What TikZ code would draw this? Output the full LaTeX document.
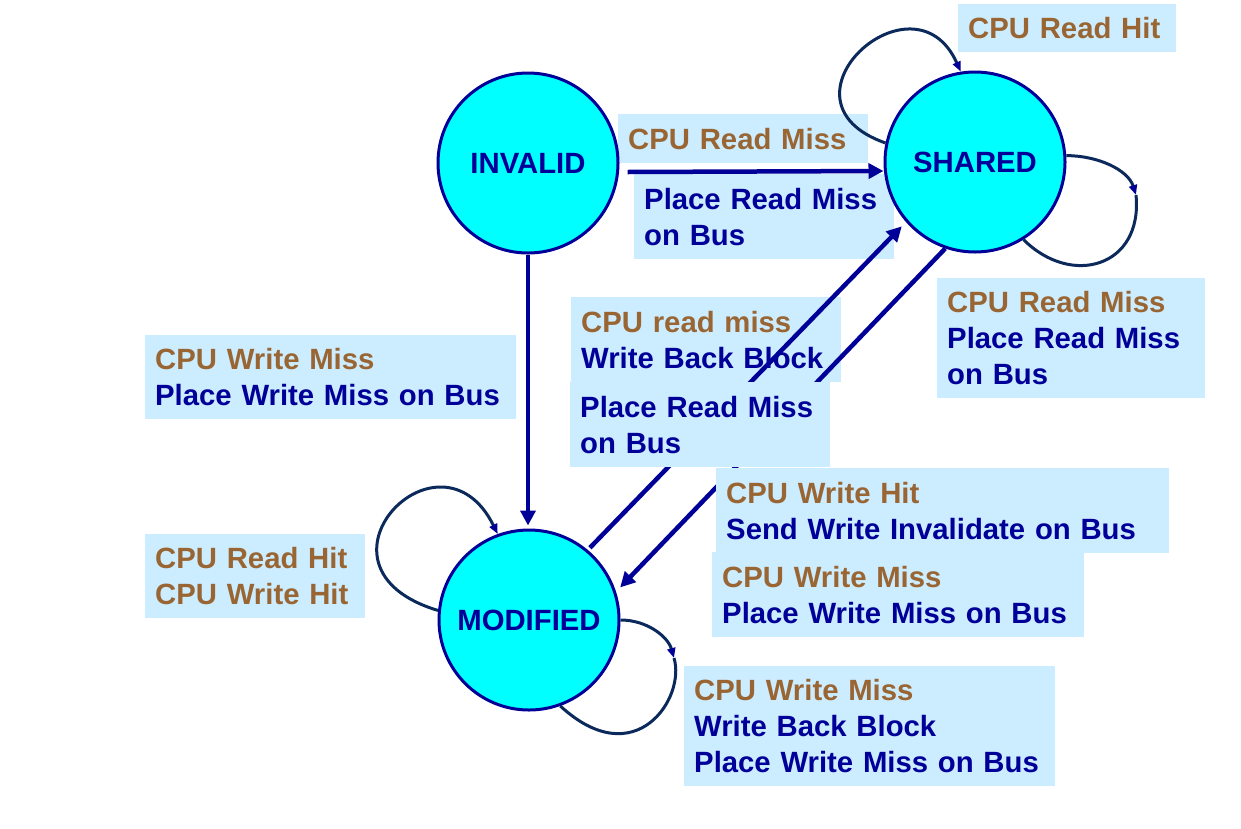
\documentclass[tikz,border=0pt]{standalone}
\usepackage{fontspec}
\setmainfont{Liberation Sans}
\usetikzlibrary{arrows.meta}
\definecolor{stateblue}{HTML}{000099}
\definecolor{cpubrown}{HTML}{996633}
\definecolor{boxblue}{HTML}{CCECFF}
\definecolor{statefill}{HTML}{00FFFF}
\definecolor{loopnavy}{HTML}{0B2A5B}
\newcommand{\cond}[1]{\textcolor{cpubrown}{#1}}
\tikzset{
	state/.style={circle, draw=stateblue, fill=statefill, line width=3pt, minimum size=180pt, inner sep=0pt, text=stateblue, font=\fontsize{29.3}{35.7}\selectfont\bfseries},
	lbl/.style={fill=boxblue, anchor=north west, align=left, inner xsep=10pt, inner ysep=0pt, text=stateblue, font=\fontsize{29.3}{35.7}\selectfont\bfseries},
	trans/.style={draw=stateblue, line width=4.5pt, -{Triangle[length=15pt,width=15pt]}},
	selfloop/.style={draw=loopnavy, line width=3pt, -{Triangle[length=10pt,width=8pt,color=stateblue]}},
}

\begin{document}
\begin{tikzpicture}[x=1pt, y=-1pt]
		%%%%% START %%%%%
		\useasboundingbox (0,0) rectangle (1241,828);
		
		% labels under the arrows
		\node[lbl, text width=198pt, minimum height=48pt] (lRH) at (958,4) {\cond{CPU Read Hit}};
		\node[lbl, text width=230pt, minimum height=49pt] (lRMa) at (618,114) {\cond{CPU Read Miss}};
		\node[lbl, text width=240pt, minimum height=85pt] (lRMb) at (634,174) {Place Read Miss\\on Bus};
		\node[lbl, text width=248pt, minimum height=120pt] (lSRM) at (937,278) {\cond{CPU Read Miss}\\Place Read Miss\\on Bus};
		\node[lbl, text width=351pt, minimum height=84pt] (lWM) at (145,335) {\cond{CPU Write Miss}\\Place Write Miss on Bus};
		\node[lbl, text width=250pt, minimum height=85pt] (lWB) at (571,297) {\cond{CPU read miss}\\Write Back Block};
		\node[lbl, text width=200pt, minimum height=84pt] (lMH) at (145,534) {\cond{CPU Read Hit}\\\cond{CPU Write Hit}};
		\node[lbl, text width=351pt, minimum height=120pt] (lMWM) at (684,666) {\cond{CPU Write Miss}\\Write Back Block\\Place Write Miss on Bus};
		
		% states
		\node[state] (INVALID) at (528,163) {INVALID};
		\node[state] (SHARED) at (975,162) {SHARED};
		\node[state] (MODIFIED) at (529,620) {MODIFIED};
		
		% transitions
		\draw[trans] ([xshift=8pt,yshift=-9pt]INVALID.east) -- ([yshift=-9pt]SHARED.west);
		\draw[trans, shorten >=3pt] (INVALID.south) -- (INVALID.south |- MODIFIED.north);
		\draw[trans, shorten <=3pt, shorten >=6pt] (MODIFIED.50) -- (SHARED.221);
		\draw[trans, shorten >=6pt] (SHARED.251) -- (MODIFIED.18);
		
		% self loops
		\draw[selfloop] (SHARED.168) .. controls +(-120,-42) and +(-47,-105) .. (SHARED.99);
		\coordinate (sR) at (1136,195);
		\draw[selfloop] (SHARED.4) .. controls +(32,0) and +(-8,-25) .. (sR);
		\draw[selfloop, -] (sR) .. controls +(7,72) and +(48,48) .. (SHARED.-58);
		\draw[selfloop] (MODIFIED.174) .. controls +(-143,-43) and +(-58,-117) .. (MODIFIED.110);
		\coordinate (mR) at (674,658);
		\draw[selfloop] (MODIFIED.0) .. controls +(27,0) and +(-6,-21) .. (mR);
		\draw[selfloop, -] (mR) .. controls +(12,40) and +(75,69) .. (MODIFIED.-70);
		
		% labels over the arrows
		\node[lbl, text width=240pt, minimum height=85pt] (lPRM) at (570,382) {Place Read Miss\\on Bus};
		\node[lbl, text width=433pt, minimum height=85pt] (lWH) at (716,468) {\cond{CPU Write Hit}\\Send Write Invalidate on Bus};
		\node[lbl, text width=352pt, minimum height=85pt] (lSWM) at (712,552) {\cond{CPU Write Miss}\\Place Write Miss on Bus};
		%%%%% END %%%%%
\end{tikzpicture}
\end{document}
